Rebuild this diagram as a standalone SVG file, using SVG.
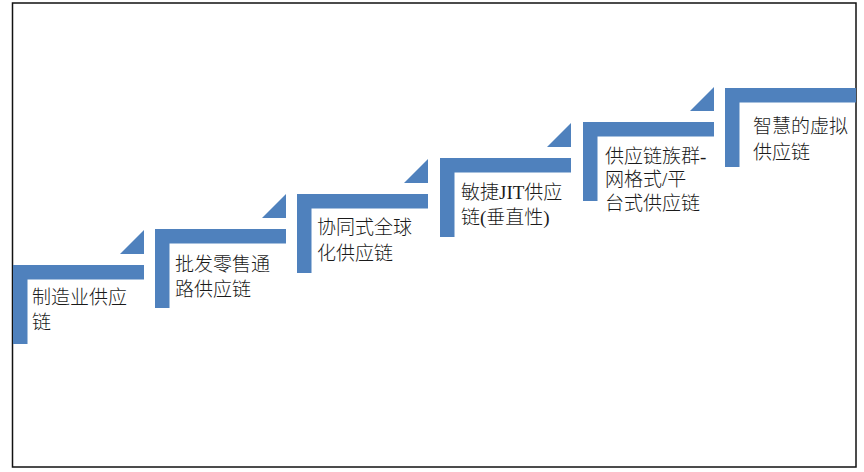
<svg xmlns="http://www.w3.org/2000/svg" xmlns:xlink="http://www.w3.org/1999/xlink" width="864" height="472" viewBox="0 0 864 472">
<style>
.step{fill:#4F81BD;}
.lbl{font-family:"Liberation Serif","Noto Sans CJK SC",sans-serif;font-size:19px;fill:#1a1a1a;font-weight:300;}
</style>
<defs>
<path id="bar" d="M0,0 H131 V14.5 H14.5 V79 H0 Z"/>
<path id="tri" d="M131,-35 V-11 H107 Z"/>
</defs>
<rect x="0" y="0" width="864" height="472" fill="#ffffff"/>
<rect x="12.5" y="3" width="843.5" height="464" fill="#ffffff" stroke="#111" stroke-width="1.5"/>
<g id="step1"><use xlink:href="#bar" class="step" x="13" y="265"/><use xlink:href="#tri" class="step" x="13" y="265"/>
<text class="lbl" x="32" y="303.5">制造业供应</text><text class="lbl" x="32" y="329">链</text></g>
<g id="step2"><use xlink:href="#bar" class="step" x="155" y="229"/><use xlink:href="#tri" class="step" x="155" y="229"/>
<text class="lbl" x="175" y="270.5">批发零售通</text><text class="lbl" x="175" y="296">路供应链</text></g>
<g id="step3"><use xlink:href="#bar" class="step" x="297" y="194"/><use xlink:href="#tri" class="step" x="297" y="194"/>
<text class="lbl" x="317" y="233.5">协同式全球</text><text class="lbl" x="317" y="259.5">化供应链</text></g>
<g id="step4"><use xlink:href="#bar" class="step" x="440" y="158"/><use xlink:href="#tri" class="step" x="440" y="158"/>
<text class="lbl" x="461" y="198.5">敏捷JIT供应</text><text class="lbl" x="461" y="224">链(垂直性)</text></g>
<g id="step5"><use xlink:href="#bar" class="step" x="583" y="122"/><use xlink:href="#tri" class="step" x="583" y="122"/>
<text class="lbl" x="605" y="162.5">供应链族群-</text><text class="lbl" x="605" y="186">网格式/平</text><text class="lbl" x="605" y="209.5">台式供应链</text></g>
<g id="step6"><use xlink:href="#bar" class="step" x="725" y="88"/>
<text class="lbl" x="753" y="133">智慧的虚拟</text><text class="lbl" x="753" y="158.5">供应链</text></g>
<g id="connectors"></g>
</svg>
